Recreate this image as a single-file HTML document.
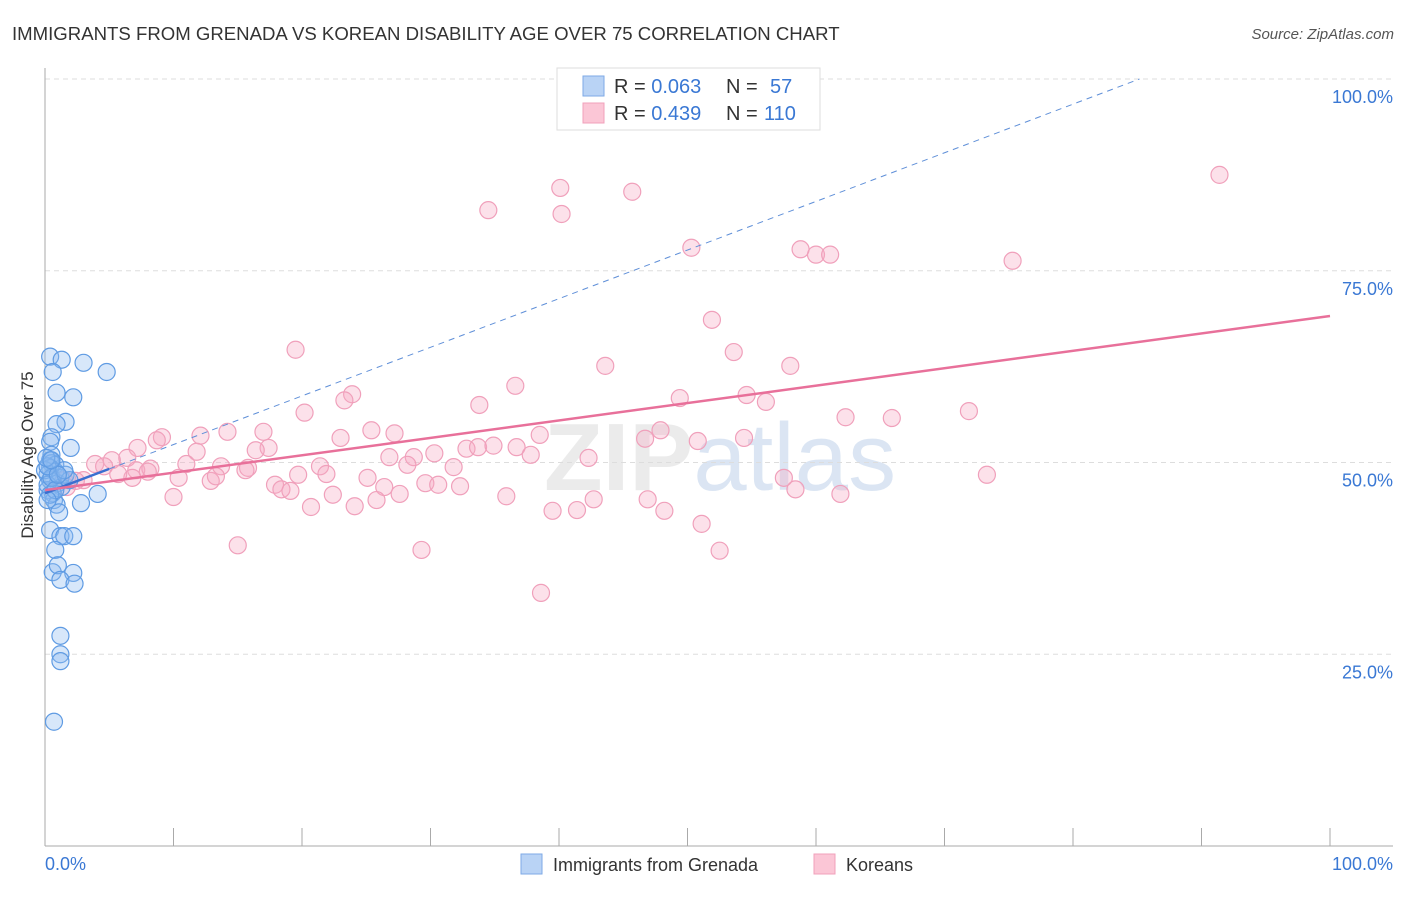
<!DOCTYPE html>
<html><head><meta charset="utf-8"><style>
body{margin:0;background:#fff;font-family:"Liberation Sans",sans-serif;}
svg text{font-family:"Liberation Sans",sans-serif;}
</style></head><body>
<svg id="chart" width="1406" height="892" xmlns="http://www.w3.org/2000/svg">
<text x="12" y="40" font-size="18.6" fill="#333">IMMIGRANTS FROM GRENADA VS KOREAN DISABILITY AGE OVER 75 CORRELATION CHART</text>
<text x="1394" y="39" font-size="15" fill="#555" font-style="italic" text-anchor="end">Source: ZipAtlas.com</text>
<text x="720" y="490" font-size="96" text-anchor="middle" fill="#d8d8d8" opacity="0.5" font-weight="bold">ZIP<tspan fill="#b8cde8" font-weight="normal">atlas</tspan></text>
<text transform="translate(33,455) rotate(-90)" font-size="17" fill="#333" text-anchor="middle">Disability Age Over 75</text>
<g id="grid"></g><g id="axes"></g><g id="pts"></g><g id="lines"></g>
<g>
<rect x="557" y="68" width="263" height="62" fill="#fff" stroke="#ddd"/>
<rect x="583" y="76" width="21" height="20" fill="#b9d3f5" stroke="#7eaae6"/>
<rect x="583" y="103" width="21" height="20" fill="#fbc6d6" stroke="#f0a0bb"/>
<text x="614" y="93" font-size="20" fill="#333">R = <tspan fill="#3a78d4">0.063</tspan><tspan x="726">N = </tspan><tspan x="770" fill="#3a78d4">57</tspan></text>
<text x="614" y="120" font-size="20" fill="#333">R = <tspan fill="#3a78d4">0.439</tspan><tspan x="726">N = </tspan><tspan x="764" fill="#3a78d4">110</tspan></text>
</g>
<g>
<rect x="521" y="854" width="21" height="20" fill="#b9d3f5" stroke="#7eaae6"/>
<text x="553" y="871" font-size="18" fill="#333">Immigrants from Grenada</text>
<rect x="814" y="854" width="21" height="20" fill="#fbc6d6" stroke="#f0a0bb"/>
<text x="846" y="871" font-size="18" fill="#333">Koreans</text>
</g>
</svg>
<script>
const yTicks=[25,50,75,100];
const yTickLabels=["25.0%","50.0%","75.0%","100.0%"];
const xTickVals=[0,10,20,30,40,50,60,70,80,90,100];
const blueX=[0.4,1.3,3.0,4.8,0.6,0.9,2.2,1.6,0.9,0.5,0.4,2.0,0.5,0.4,0.5,0.8,0.4,0.8,0.2,1.2,0.4,1.0,1.3,0.2,0.6,4.1,2.8,0.7,0.9,1.1,0.4,1.2,1.5,2.2,0.8,0.6,1.0,2.2,1.2,2.3,1.2,1.2,1.2,0.7,0.0,0.2,0.5,1.6,1.9,0.4,0.8,1.5,0.2,0.1,1.0,0.5,0.2];
const blueY=[63.8,63.4,63.0,61.8,61.8,59.1,58.5,55.3,55.0,53.3,52.7,51.9,51.0,50.3,49.9,49.7,49.3,48.8,48.4,48.0,47.7,47.3,46.8,46.4,46.0,45.9,44.7,45.1,44.5,43.5,41.2,40.4,40.4,40.4,38.6,35.7,36.6,35.6,34.7,34.2,27.4,25.0,24.1,16.2,49.0,47.1,48.0,48.4,47.7,45.8,46.4,49.0,49.5,50.6,48.4,50.3,45.1];
const pinkX=[91.4,40.1,45.7,34.5,40.2,50.3,58.8,60.0,61.1,75.3,51.9,19.5,53.6,43.6,58.0,36.6,23.9,23.3,54.6,49.4,56.1,20.2,33.8,62.3,65.9,71.9,25.4,27.2,14.2,17.0,9.1,8.7,12.1,23.0,38.5,47.9,46.7,54.4,50.8,7.2,32.8,33.7,34.9,36.7,37.8,42.3,30.3,28.7,26.8,28.2,31.8,17.4,16.4,11.8,6.4,5.2,3.9,4.6,11.0,13.7,15.8,21.4,15.6,7.1,8.2,6.8,8.0,5.7,3.0,2.4,1.5,1.7,10.4,12.9,13.3,19.7,21.9,25.1,29.6,30.6,32.3,26.4,17.9,18.4,19.1,27.6,22.4,25.8,35.9,42.7,46.9,10.0,20.7,24.1,39.5,41.4,48.2,51.1,15.0,29.3,52.5,38.6,57.5,58.4,61.9,73.3];
const pinkY=[87.5,85.8,85.3,82.9,82.4,78.0,77.8,77.1,77.1,76.3,68.6,64.7,64.4,62.6,62.6,60.0,58.9,58.1,58.8,58.4,57.9,56.5,57.5,55.9,55.8,56.7,54.2,53.8,54.0,54.0,53.3,52.9,53.5,53.2,53.6,54.2,53.1,53.2,52.8,51.9,51.8,52.0,52.2,52.0,51.0,50.6,51.2,50.7,50.7,49.7,49.4,51.9,51.6,51.4,50.6,50.3,49.8,49.5,49.8,49.5,49.3,49.5,49.0,49.0,49.2,48.0,48.8,48.5,47.7,47.6,47.7,46.8,48.0,47.6,48.2,48.4,48.5,48.0,47.3,47.1,46.9,46.8,47.1,46.5,46.3,45.9,45.8,45.1,45.6,45.2,45.2,45.5,44.2,44.3,43.7,43.8,43.7,42.0,39.2,38.6,38.5,33.0,48.0,46.5,45.9,48.4];
const blueTrend=[46.0,0.634];
const pinkTrend=[46.4,0.227];
const NS="http://www.w3.org/2000/svg";
const sx=v=>45+v*12.85, sy=v=>846-v*7.67;
function mk(tag,attrs,parent){const e=document.createElementNS(NS,tag);for(const k in attrs)e.setAttribute(k,attrs[k]);document.getElementById(parent).appendChild(e);return e;}
yTicks.forEach((t,i)=>{
 const g=mk('line',{x1:45,x2:1393,y1:sy(t),y2:sy(t),stroke:'#ddd','stroke-dasharray':'5,4'},'grid');
 
 
 const tx=mk('text',{x:1393,y:sy(t)+24,'font-size':18,fill:'#3a78d4','text-anchor':'end'},'axes');
 tx.textContent=yTickLabels[i];
 
 
});
const ya=mk('line',{x1:45,x2:45,y1:68,y2:846,stroke:'#aaa'},'axes');


const xa=mk('line',{x1:45,x2:1393,y1:846,y2:846,stroke:'#aaa'},'axes');


xTickVals.forEach(v=>{
 const t=mk('line',{x1:sx(v),x2:sx(v),y1:828,y2:846,stroke:'#aaa'},'axes');
 
 
});
const xl0=mk('text',{x:45,y:870,'font-size':18,fill:'#3a78d4'},'axes');xl0.textContent='0.0%';


const xl1=mk('text',{x:1393,y:870,'font-size':18,fill:'#3a78d4','text-anchor':'end'},'axes');xl1.textContent='100.0%';


pinkX.forEach((x,i)=>{
 const c=mk('circle',{cx:sx(x),cy:sy(pinkY[i]),r:8.5,fill:'rgba(246,168,195,0.35)',stroke:'#f0a0bb','stroke-width':1.2},'pts');
 
 
});
blueX.forEach((x,i)=>{
 const c=mk('circle',{cx:sx(x),cy:sy(blueY[i]),r:8.5,fill:'rgba(140,185,240,0.35)',stroke:'#5f9be3','stroke-width':1.2},'pts');
 
 
});
const bxEnd=(100-blueTrend[0])/blueTrend[1];
const b1=mk('line',{x1:sx(0),y1:sy(blueTrend[0]),x2:sx(5),y2:sy(blueTrend[0]+5*blueTrend[1]),stroke:'#3a6fd0','stroke-width':2.5},'lines');


const b2=mk('line',{x1:sx(5),y1:sy(blueTrend[0]+5*blueTrend[1]),x2:sx(bxEnd),y2:sy(100),stroke:'#5f8fd8','stroke-width':1,'stroke-dasharray':'6,5'},'lines');


const p=mk('line',{x1:sx(0),y1:sy(pinkTrend[0]),x2:sx(100),y2:sy(pinkTrend[0]+100*pinkTrend[1]),stroke:'#e8709a','stroke-width':2.5},'lines');


</script>
</body></html>
